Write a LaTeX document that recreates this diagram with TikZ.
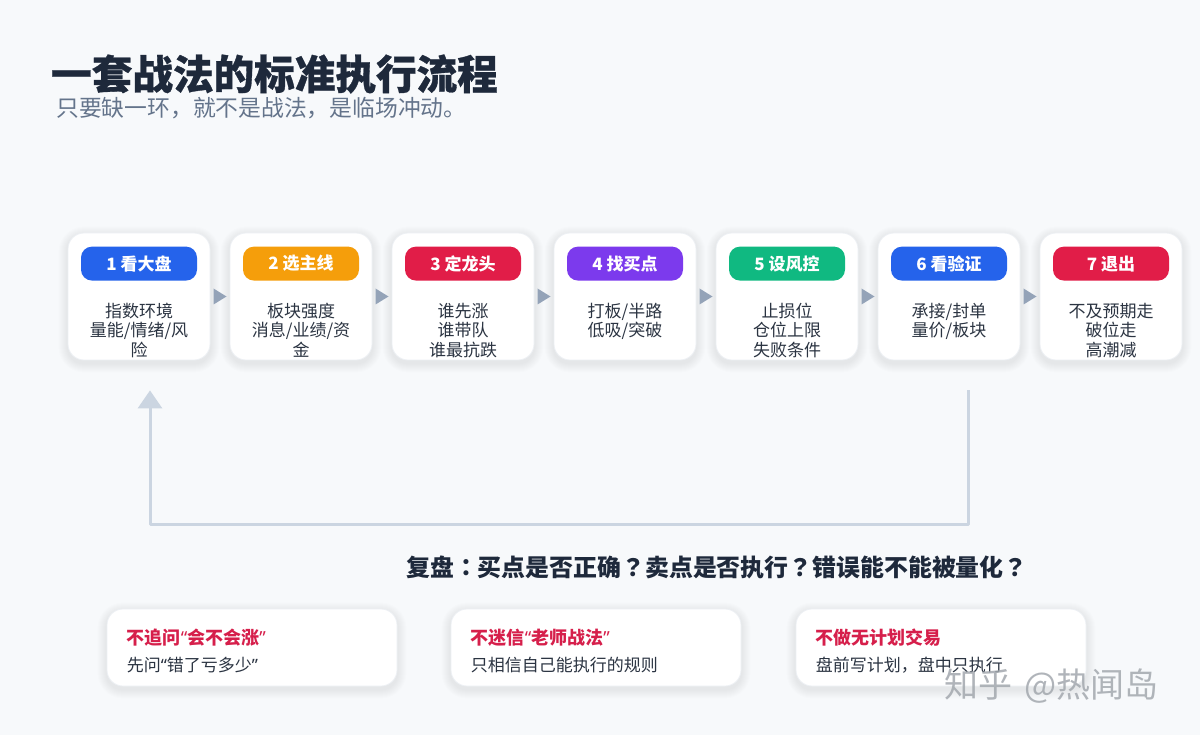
\documentclass[tikz,border=0pt]{standalone}
\usepackage{fontspec}
\setmainfont{Noto Sans CJK SC}
\newfontfamily\tcf{Noto Sans CJK TC}
\newfontfamily\latf{Noto Sans}
\newfontfamily\heavyf{Noto Sans CJK SC}[BoldFeatures={FakeBold=0.8}]
\usetikzlibrary{arrows.meta,calc}
\pgfdeclarelayer{backlayer}
\pgfdeclarelayer{shadowlayer}
\pgfsetlayers{backlayer,shadowlayer,main}
\definecolor{bg}{HTML}{F7F9FB}
\definecolor{ink}{HTML}{1E293B}
\definecolor{subink}{HTML}{64748B}
\definecolor{bodyink}{HTML}{2B3442}
\definecolor{cardedge}{HTML}{EDF0F4}
\definecolor{pblue}{HTML}{2563EB}
\definecolor{porange}{HTML}{F59E0B}
\definecolor{pred}{HTML}{E11D48}
\definecolor{ppurple}{HTML}{7C3AED}
\definecolor{pgreen}{HTML}{10B981}
\definecolor{trigray}{HTML}{94A3B8}
\definecolor{loopgray}{HTML}{CBD5E1}
\definecolor{tipred}{HTML}{D61F4B}
\definecolor{wmgray}{HTML}{A3A8AE}
\definecolor{shadowc}{HTML}{1E293B}
\tikzset{
  card/.style={rounded corners=16pt, minimum width=142pt, minimum height=127pt,
    fill=white, draw=cardedge, line width=0.8pt, inner sep=0pt},
  pill/.style={rounded corners=11pt, minimum width=116pt, minimum height=34pt, inner sep=0pt,
    text=white, font=\bfseries\fontsize{17}{20}\selectfont},
  body/.style={anchor=north, align=center, inner sep=0pt, text=bodyink,
    font=\fontsize{17}{19.5}\selectfont},
  tri/.style={fill=trigray},
  tipcard/.style={rounded corners=16pt, minimum width=290pt, minimum height=77pt,
    fill=white, draw=cardedge, line width=0.8pt, inner sep=0pt},
  tiptitle/.style={anchor=west, inner sep=0pt, text=tipred, font=\bfseries\fontsize{18}{21}\selectfont},
  tiptext/.style={anchor=west, inner sep=0pt, text=bodyink, font=\fontsize{17}{20}\selectfont},
}
\newcommand{\myopenq}{{\latf “}}
\newcommand{\mycloseq}{{\latf ”}}
% soft shadow behind a named node
\newcommand{\softshadow}[1]{%
  \begin{pgfonlayer}{shadowlayer}
    \foreach \k in {1,...,9}{
      \pgfmathsetmacro{\rr}{16+\k}
      \fill[shadowc, opacity=0.007, rounded corners=\rr pt]
        ($(#1.north west)+(-\k,-\k+3)$) rectangle ($(#1.south east)+(\k,\k+3)$);
    }
  \end{pgfonlayer}}
\begin{document}
\begin{tikzpicture}[x=1pt,y=-1pt]
\begin{pgfonlayer}{backlayer}
\fill[bg] (0,0) rectangle (1200,735);
\end{pgfonlayer}
\useasboundingbox (0,0) rectangle (1200,735);

% title
\node[anchor=west, inner sep=0pt, text=ink, font=\heavyf\bfseries\fontsize{40.6}{44}\selectfont] (title) at (51,74) {一套战法的标准执行流程};
\node[anchor=west, inner sep=0pt, text=subink, font=\fontsize{22.8}{26}\selectfont] (subtitle) at (56,108) {只要缺一环，就不是战法，是临场冲动。};

% step cards
\foreach \i/\x/\col/\lab/\txt in {
  1/139/pblue/{1 看大盘}/{指数环境\\量能/情绪/风\\险},
  2/301/porange/{2 选主线}/{板块强度\\消息/业绩/资\\金},
  3/463/pred/{3 定龙头}/{谁先涨\\谁带队\\谁最抗跌},
  4/625/ppurple/{4 找买点}/{打板/半路\\低吸/突破},
  5/787/pgreen/{5 设风控}/{止损位\\仓位上限\\失败条件},
  6/949/pblue/{6 看验证}/{承接/封单\\量价/板块},
  7/1111/pred/{7 退出}/{不及预期走\\破位走\\高潮减}}{
  \node[card] (c\i) at (\x,296.5) {};
  \softshadow{c\i}
  \node[pill, fill=\col] (p\i) at ($(c\i.north)+(0,31)$) {\lab};
  \node[body] (b\i) at ($(c\i.north)+(0,70)$) {\txt};
}

% arrow triangles between cards
\foreach \a/\b in {1/2,2/3,3/4,4/5,5/6,6/7}{
  \fill[tri] ($(c\a.east)!0.5!(c\b.west)+(6.5,0)$) -- ++(-13,-8) -- ++(0,16) -- cycle;
}

% feedback loop
\coordinate (loopstart) at ($(c6.south)+(19,30)$);
\coordinate (loopend) at ($(c1.south)+(11,30)$);
\coordinate (loopbottom) at (0,524);
\draw[loopgray, line width=3pt, line join=round, -{Triangle[width=24pt,length=18pt]}]
  (loopstart) -- (loopstart |- loopbottom) -- (loopend |- loopbottom) -- (loopend);

% review line
\node[anchor=west, inner sep=0pt, text=ink, font=\bfseries\fontsize{23.9}{27}\selectfont] (review) at (406,567) {复盘{\tcf ：}买点是否正确{\tcf ？}卖点是否执行{\tcf ？}错误能不能被量化{\tcf ？}};

% tip cards
\foreach \i/\x/\ttl/\txt in {
  1/252/{不追问\myopenq 会不会涨\mycloseq}/{先问\myopenq 错了亏多少\mycloseq},
  2/596/{不迷信\myopenq 老师战法\mycloseq}/{只相信自己能执行的规则},
  3/941/{不做无计划交易}/{盘前写计划，盘中只执行}}{
  \node[tipcard] (t\i) at (\x,647.5) {};
  \softshadow{t\i}
  \node[tiptitle] (tt\i) at ($(t\i.west)+(20,-9.5)$) {\ttl};
  \node[tiptext] (tx\i) at ($(t\i.west)+(20,17.5)$) {\txt};
}

% watermark
\node[anchor=west, inner sep=0pt, text=wmgray, opacity=0.85, font=\fontsize{34}{38}\selectfont] (wm) at (944,686) {知乎\hspace{12pt}@热闻岛};
\end{tikzpicture}
\end{document}
